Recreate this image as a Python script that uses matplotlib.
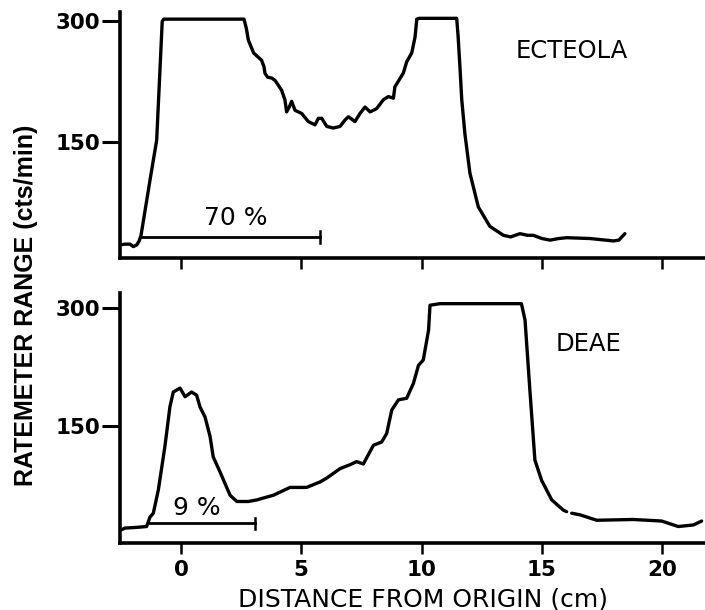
import numpy as np
import matplotlib
matplotlib.use("Agg")
import matplotlib.pyplot as plt

# ---------------- data ----------------
ecteola_x = [-2.54, -2.33, -2.12, -1.98, -1.84, -1.74, -1.66, -1.29, -1.01, -0.78, -0.72,
             2.62, 2.72, 2.80, 3.02, 3.35, 3.45, 3.49, 3.60, 3.77, 3.91, 4.18, 4.32, 4.39,
             4.50, 4.60, 4.74, 5.02, 5.29, 5.57, 5.71, 5.85, 6.06, 6.33, 6.61, 6.82, 6.96,
             7.23, 7.44, 7.65, 7.86, 8.13, 8.41, 8.62, 8.83, 8.89, 9.24, 9.38, 9.59, 9.73,
             9.80, 9.90, 11.46, 11.52, 11.60, 11.67, 11.80, 12.01, 12.36, 12.84, 13.40,
             13.70, 14.09, 14.40, 14.64, 15.00, 15.34, 15.70, 16.03, 17.00, 17.97, 18.20, 18.45]
ecteola_y = [22, 23, 23, 20, 22, 27, 34, 102, 152, 299, 302,
             302, 290, 276, 260, 251, 243, 235, 230, 229, 226, 214, 202, 187,
             193, 200, 189, 185, 175, 171, 179, 179, 169, 167, 169, 177, 181,
             175, 185, 193, 187, 191, 202, 206, 204, 218, 235, 249, 260, 280,
             302, 303, 303, 280, 240, 202, 160, 111, 69, 45, 34,
             32, 36, 34, 34, 30, 28, 30, 31, 30, 27, 28, 36]

deae_x = [-2.46, -2.33, -1.80, -1.43, -1.29, -1.15, -0.94, -0.67, -0.46, -0.32, -0.04,
          0.17, 0.44, 0.65, 0.79, 1.00, 1.21, 1.34, 1.62, 1.83, 2.04, 2.32, 2.80, 3.15,
          3.49, 3.84, 4.53, 5.22, 5.78, 6.06, 6.61, 7.02, 7.30, 7.58, 8.00, 8.34, 8.55,
          8.76, 9.04, 9.38, 9.66, 9.87, 10.07, 10.29, 10.35, 10.76, 14.15, 14.30, 14.50,
          14.71, 14.99, 15.41, 15.89, 16.03, 16.12, 16.24, 16.58, 17.28, 18.80, 19.98,
          20.67, 21.30, 21.64]
deae_y = [17, 19, 20, 21, 33, 38, 68, 123, 174, 193, 198,
          187, 193, 189, 174, 161, 136, 110, 91, 76, 61, 53, 53, 55,
          58, 61, 71, 71, 78, 83, 95, 100, 104, 101, 125, 129, 140,
          170, 183, 185, 204, 227, 234, 272, 304, 306, 306, 285, 196,
          106, 80, 55, 42, 40, np.nan, 38, 36, 29, 30, 28,
          21, 23, 28]

bracket70_x = [-1.63, 5.78]
bracket70_y = 32
bracket9_x = [-1.29, 3.08]
bracket9_y = 25

x_ticks = [0, 5, 10, 15, 20]
x_ticklabels = ["0", "5", "10", "15", "20"]
y_ticks = [150, 300]
y_ticklabels = ["150", "300"]

# ---------------- figure ----------------
fig = plt.figure(figsize=(7.05, 6.10), dpi=100)
plt.rcParams['font.family'] = ['DejaVu Sans']

ax1 = fig.add_axes([0.1702, 0.5766, 0.8298, 0.4042])
ax2 = fig.add_axes([0.1702, 0.1093, 0.8298, 0.4098])

line_kw = dict(color="black", lw=2.4, solid_capstyle="round", solid_joinstyle="round")

ax1.plot(ecteola_x, ecteola_y, **line_kw)
ax2.plot(deae_x, deae_y, **line_kw)

# brackets
ax1.plot(bracket70_x, [bracket70_y, bracket70_y], color="black", lw=2.0)
ax1.plot([bracket70_x[1]] * 2, [bracket70_y - 7, bracket70_y + 7], color="black", lw=1.8)
ax2.plot(bracket9_x, [bracket9_y, bracket9_y], color="black", lw=2.0)
ax2.plot([bracket9_x[1]] * 2, [bracket9_y - 7, bracket9_y + 7], color="black", lw=1.8)

ax1.text(2.28, 55, "70 %", ha="center", va="center", fontsize=18)
ax2.text(0.65, 45, "9 %", ha="center", va="center", fontsize=18)

ax1.text(16.23, 262, "ECTEOLA", ha="center", va="center", fontsize=17.5)
ax2.text(16.93, 255, "DEAE", ha="center", va="center", fontsize=17.5)

for ax, ylim in ((ax1, (5.5, 311.2)), (ax2, (-0.5, 319.2))):
    ax.set_xlim(-2.535, 21.78)
    ax.set_ylim(*ylim)
    ax.spines["top"].set_visible(False)
    ax.spines["right"].set_visible(False)
    for s in ("left", "bottom"):
        ax.spines[s].set_linewidth(2.6)
        ax.spines[s].set_color("black")
    ax.set_xticks(x_ticks)
    ax.set_yticks(y_ticks)
    ax.set_yticklabels(y_ticklabels, fontsize=15.5, fontweight="bold")
    ax.tick_params(axis="x", direction="out", length=8, width=1.8, pad=4)
    ax.tick_params(axis="y", direction="out", length=13, width=2.2, pad=1)
    ax.set_facecolor("white")

ax1.set_xticklabels([])
ax2.set_xticklabels(x_ticklabels, fontsize=15.5, fontweight="bold")

fig.text(0.6007, 0.018, "DISTANCE FROM ORIGIN (cm)", ha="center", va="center", fontsize=18)
fig.text(0.037, 0.5, "RATEMETER RANGE (cts/min)", rotation=90, ha="center", va="center",
         fontsize=18, fontweight="bold", family=["Liberation Sans", "DejaVu Sans"])

fig.savefig("out.png", dpi=100, facecolor="white")
